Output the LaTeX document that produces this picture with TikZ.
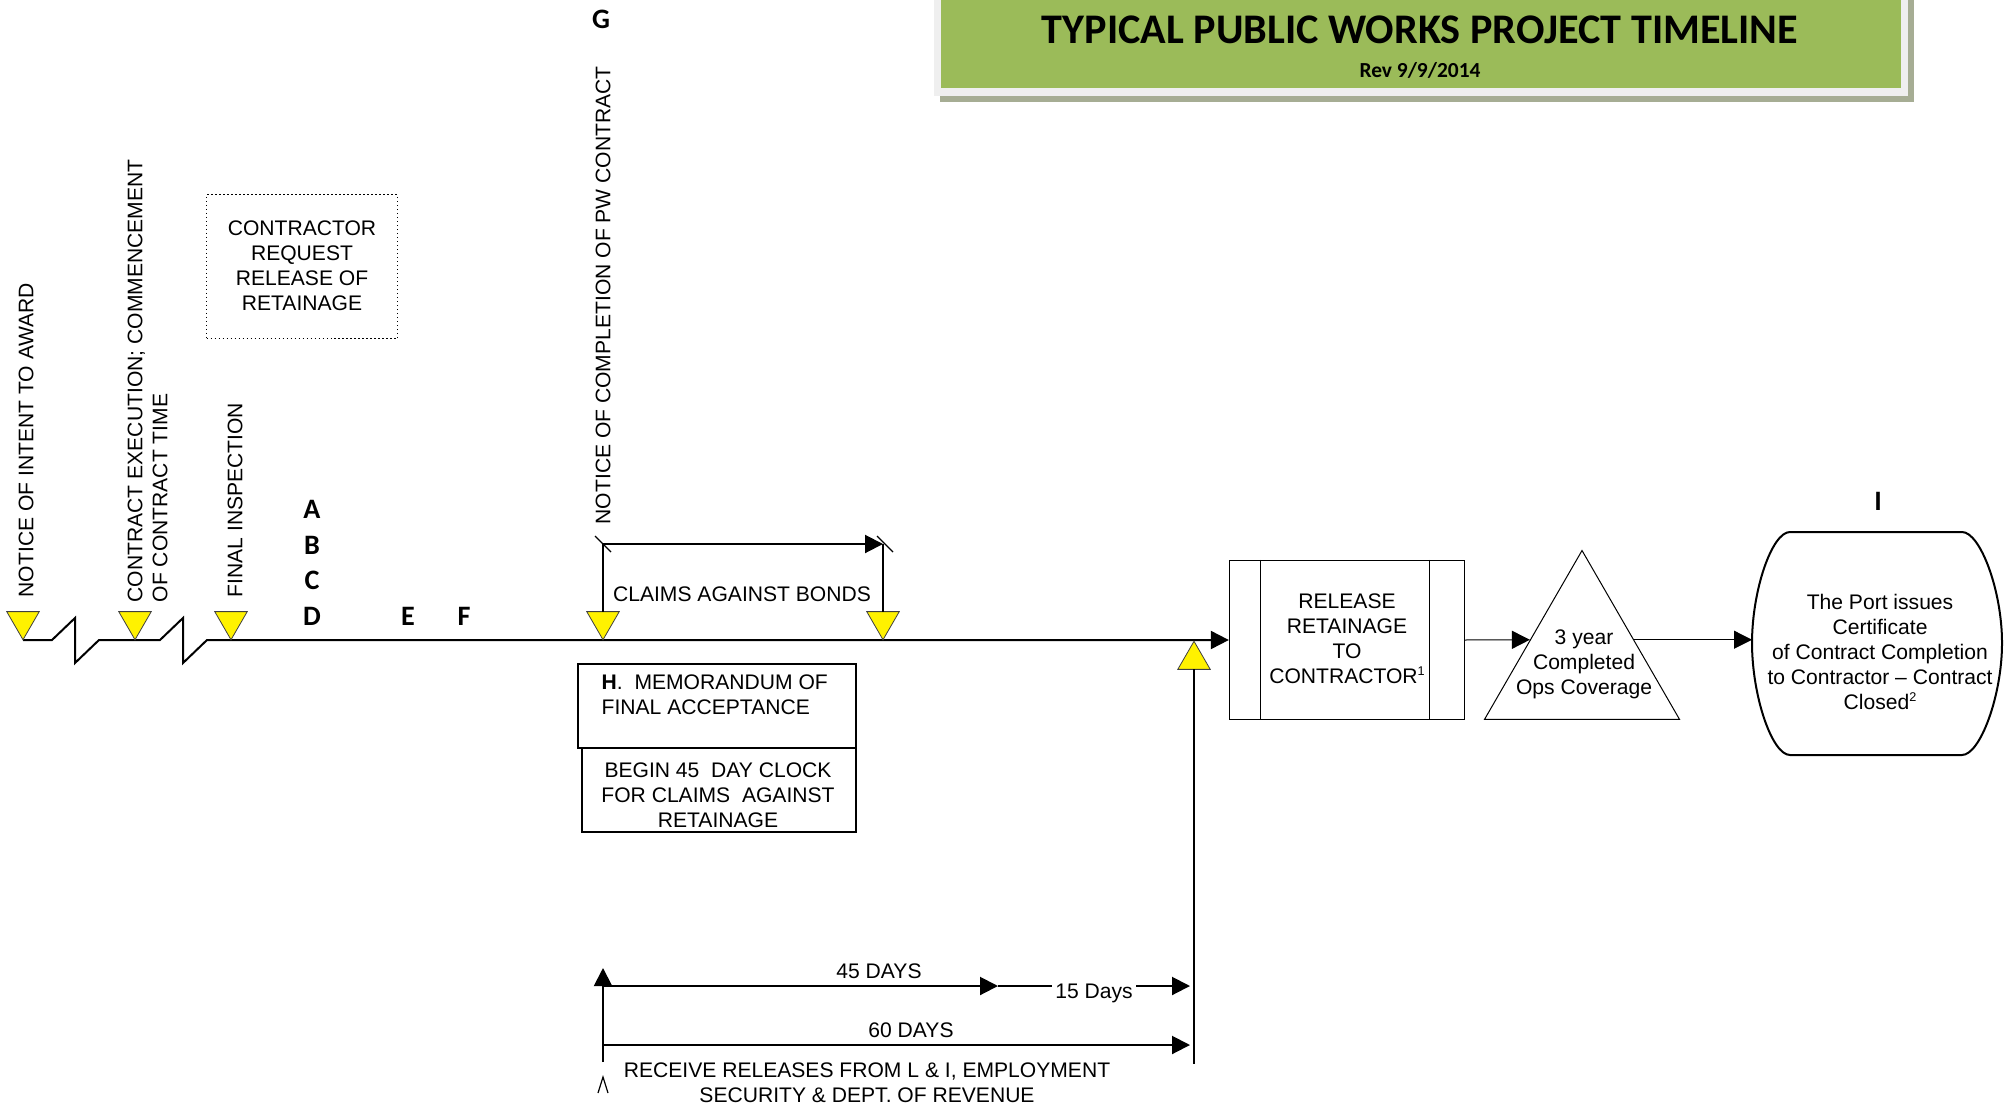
\documentclass[tikz,border=0pt]{standalone}
\usepackage{fontspec}
\setmainfont{Liberation Sans}
\newfontfamily\calibri{Carlito}
\usetikzlibrary{shapes.geometric,arrows.meta,calc}
\definecolor{bannergreen}{HTML}{9BBB59}
\definecolor{bannershadow}{HTML}{A6AD94}
\definecolor{bannerframe}{HTML}{EFEFEF}
\newcommand{\noteref}[1]{\raisebox{0.4em}{\fontsize{3.6}{4}\selectfont #1}}

\begin{document}
\begin{tikzpicture}[x=0.1mm, y=-0.1mm]
	\tikzset{milestone/.style={regular polygon, regular polygon sides=3, shape border rotate=180, draw=black!75, line width=0.08mm, fill=yellow, minimum size=3.75mm, inner sep=0pt, outer sep=0pt},
		caption/.style={font=\fontsize{6}{7.1}\selectfont, inner sep=0pt},
		letter/.style={font=\calibri\bfseries\fontsize{8}{9.6}\selectfont, inner sep=0pt},
		frame/.style={draw, line width=0.13mm, inner sep=0pt},
		flow/.style={-{Triangle[length=1.8mm, width=1.8mm]}, line width=0.2mm},
		tline/.style={line width=0.2mm}}

	\useasboundingbox (0,0) rectangle (2011,1108);

	% banner
	\fill[bannershadow] ( 940,   0) rectangle (1914, 102);
	\fill[bannerframe]  ( 934,   0) rectangle (1908,  96);
	\fill[bannergreen]  ( 941,   0) rectangle (1901,  88);
	\node[font=\calibri\bfseries\fontsize{12}{14}\selectfont, inner sep=0pt] (title) at (1420,  30) {TYPICAL PUBLIC WORKS PROJECT TIMELINE};
	\node[font=\calibri\bfseries\fontsize{6.1}{7}\selectfont, inner sep=0pt] (rev) at (1420,  70) {Rev 9/9/2014};

	\node[frame, minimum width=23.5mm, minimum height=15.9mm] (rel) at (1347, 640) {};
	\node[regular polygon, regular polygon sides=3, draw, line width=0.1mm, minimum size=22.5mm, inner sep=0pt] (cov) at (1582, 663) {};
	\node[frame, dash pattern=on 0.15mm off 0.25mm, line width=0.1mm, minimum width=19.1mm, minimum height=14.4mm] (req) at ( 302, 267) {};
	\node[frame, minimum width=27.8mm, minimum height=8.4mm] (memo) at ( 717, 706) {};
	\node[frame, minimum width=27.4mm, minimum height=8.4mm] (clock) at ( 719, 790) {};

	% certificate outline
	\draw[line width=0.2mm] (1790, 532) -- (1962, 532) .. controls (1980, 532) and (2002, 590) .. (2002, 643)
		.. controls (2002, 696) and (1980, 755) .. (1962, 755) -- (1790, 755)
		.. controls (1772, 755) and (1752, 696) .. (1752, 643) .. controls (1752, 590) and (1772, 532) .. (1790, 532) -- cycle;
	\coordinate (certw) at (1752, 643);

	\coordinate (t0) at (  23, 640);
	\draw[flow] (t0) -- (52,640) -- (75,618) -- (75,663) -- (99,640) -- (160,640) -- (183,618) -- (183,663) -- (207,640) -- (rel.west);

	\node[milestone] (m1) at (  23, 621) {};
	\node[milestone] (m2) at ( 135, 621) {};
	\node[milestone] (m3) at ( 231, 621) {};
	\node[milestone] (m4) at ( 603, 621) {};
	\node[milestone] (m5) at ( 883, 621) {};
	\node[milestone, shape border rotate=0] (m6) at (1194, 660) {};

	\node[caption, rotate=90, anchor=west] (n1) at (  26, 598) {NOTICE OF INTENT TO AWARD};
	\node[caption, rotate=90, anchor=north west, align=left] (n2) at ( 127, 603) {CONTRACT EXECUTION; COMMENCEMENT\\OF CONTRACT TIME};
	\node[caption, rotate=90, anchor=west] (n3) at ( 235, 598) {FINAL INSPECTION};
	\node[caption, rotate=90, anchor=west] (n4) at ( 603, 525) {NOTICE OF COMPLETION OF PW CONTRACT};

	\node[caption, align=center] at ( 302, 266) {CONTRACTOR\\REQUEST\\RELEASE OF\\RETAINAGE};

	\node[letter] (la) at ( 312, 509) {A};
	\node[letter] (lb) at ( 312, 545) {B};
	\node[letter] (lc) at ( 312, 580) {C};
	\node[letter] (ld) at ( 312, 616) {D};
	\node[letter] (le) at ( 408, 616) {E};
	\node[letter] (lf) at ( 464, 616) {F};
	\node[letter] (lg) at ( 601,  19) {G};
	\node[letter] (li) at (1878, 501) {I};

	% claims against bonds
	\coordinate (cb1) at ( 603, 544);
	\coordinate (cb2) at ( 883, 544);
	\draw[tline] (m4.north) -- (cb1);
	\draw[tline] (m5.north) -- (cb2);
	\draw[flow] (cb1) -- (cb2);
	\draw[line width=0.12mm] ([xshift=-0.8mm, yshift=0.8mm]cb1) -- ([xshift=0.8mm, yshift=-0.8mm]cb1);
	\draw[line width=0.12mm] ([xshift=-0.6mm, yshift=0.8mm]cb2) -- ([xshift=1mm, yshift=-0.8mm]cb2);
	\node[caption, anchor=base] at ( 742, 601) {CLAIMS AGAINST BONDS};

	\node[caption, anchor=west, align=left] at ( 601, 695) {\textbf{H}.\ \ MEMORANDUM OF\\FINAL ACCEPTANCE};
	\node[caption, align=center] at ( 718, 795) {BEGIN 45~ DAY CLOCK\\FOR CLAIMS~ AGAINST\\RETAINAGE};

	\node[caption, align=center] at (1347, 639) {RELEASE\\RETAINAGE\\TO\\CONTRACTOR\noteref{1}};
	\node[caption, align=center] at (1584, 664) {3 year\\Completed\\Ops Coverage};
	\node[caption, align=center] (cert) at (1880, 652) {The Port issues\\Certificate\\of Contract Completion\\to Contractor -- Contract\\Closed\noteref{2}};

	\coordinate (covin)  at ($(cov.corner 1)!0.53!(cov.corner 2)$);
	\coordinate (covout) at ($(cov.corner 1)!0.53!(cov.corner 3)$);
	\draw[flow, line width=0.1mm] (rel.east) -- (covin);
	\draw[flow, line width=0.1mm] (covout) -- (covout -| certw);

	% retainage clock
	\coordinate (v1) at ( 603, 968);
	\coordinate (v0) at ( 603,1062);
	\coordinate (v2) at (1194,1064);
	\coordinate (a45) at ( 603, 986);
	\coordinate (b45) at ( 998, 986);
	\coordinate (c45) at (1190, 986);
	\coordinate (a60) at ( 603,1045);
	\coordinate (b60) at (1190,1045);
	\draw[flow] (v0) -- (v1);
	\draw[tline] (m6.south) -- (v2);
	\draw[flow] (a45) -- (b45);
	\draw[flow] (b45) -- node[caption, fill=white, inner xsep=0.3mm, yshift=-0.7mm] {15 Days} (c45);
	\draw[flow] (a60) -- (b60);
	\node[caption, anchor=base] at ( 879, 978) {45 DAYS};
	\node[caption, anchor=base] at ( 911,1037) {60 DAYS};
	\draw[line width=0.12mm] (598,1093) -- (603,1077) -- (608,1093);
	\node[caption, align=center] at ( 867,1083) {RECEIVE RELEASES FROM L \& I, EMPLOYMENT\\SECURITY \& DEPT. OF REVENUE};

	\draw[line width=0.1mm] ([xshift=3.2mm]rel.north west) -- ([xshift=3.2mm]rel.south west);
	\draw[line width=0.1mm] ([xshift=-3.6mm]rel.north east) -- ([xshift=-3.6mm]rel.south east);
\end{tikzpicture}
\end{document}
